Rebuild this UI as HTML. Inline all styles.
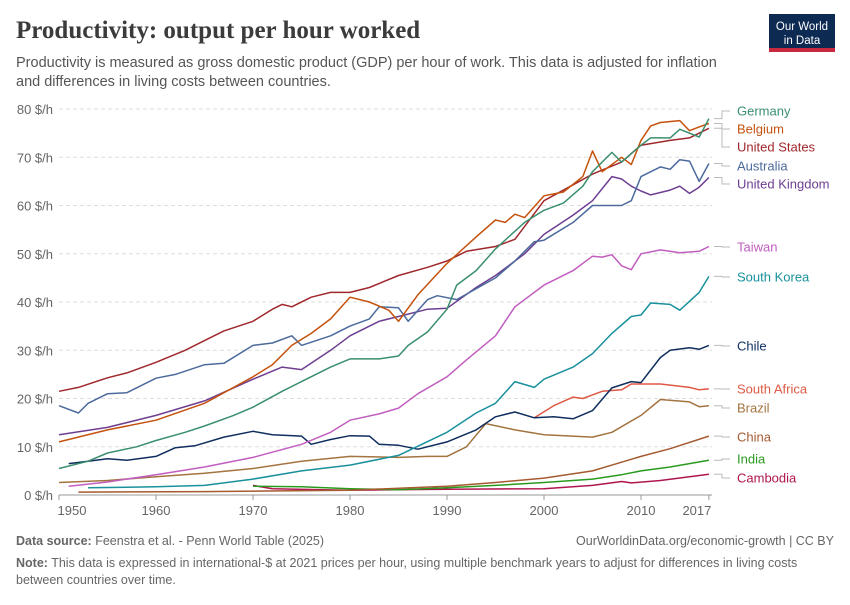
<!DOCTYPE html>
<html><head><meta charset="utf-8"><style>
body{margin:0;background:#fff;font-family:"Liberation Sans",sans-serif;}
</style></head><body>
<svg id="s" width="850" height="600" xmlns="http://www.w3.org/2000/svg" font-family="Liberation Sans, sans-serif">
<text x="16" y="38" font-family="Liberation Serif, serif" font-size="25" font-weight="bold" fill="#3b3b3b">Productivity: output per hour worked</text>
<text x="16" y="67" font-size="14.5" fill="#555">Productivity is measured as gross domestic product (GDP) per hour of work. This data is adjusted for inflation</text>
<text x="16" y="86" font-size="14.5" fill="#555">and differences in living costs between countries.</text>
<rect x="769" y="14" width="66" height="38" fill="#0d2a52"/>
<rect x="769" y="48" width="66" height="4" fill="#c8293e"/>
<text x="802" y="30" font-size="11.5" fill="#fff" text-anchor="middle">Our World</text>
<text x="802" y="44" font-size="11.5" fill="#fff" text-anchor="middle">in Data</text>
<g id="grid"></g>
<g id="lines"></g>
<g id="labels" font-size="13"></g>
<text x="16" y="545" font-size="12.5" fill="#666"><tspan font-weight="bold">Data source:</tspan> Feenstra et al. - Penn World Table (2025)</text>
<text x="834" y="545" font-size="12.5" fill="#666" text-anchor="end">OurWorldinData.org/economic-growth | CC BY</text>
<text x="16" y="567" font-size="12.5" fill="#666"><tspan font-weight="bold">Note:</tspan> This data is expressed in international-$ at 2021 prices per hour, using multiple benchmark years to adjust for differences in living costs</text>
<text x="16" y="584" font-size="12.5" fill="#666">between countries over time.</text>
</svg>
<script>
const NS="http://www.w3.org/2000/svg";
const X=y=>641+(y-2010)*9.7, Y=v=>495-v*4.825;
const g=document.getElementById('grid'),L=document.getElementById('lines'),lb=document.getElementById('labels');
function el(p,t,a,txt){const e=document.createElementNS(NS,t);for(const k in a)e.setAttribute(k,a[k]);if(txt)e.textContent=txt;p.appendChild(e);return e;}
for(let v=0;v<=80;v+=10){
 if(v>0)el(g,'line',{x1:59,x2:712,y1:Y(v),y2:Y(v),stroke:'#ddd','stroke-dasharray':'4,3'});
 el(g,'text',{x:53,y:Y(v)+5,'font-size':13,fill:'#666','text-anchor':'end'},v+' $/h');
}
el(g,'line',{x1:59,x2:712,y1:495,y2:495,stroke:'#999'});
[1950,1960,1970,1980,1990,2000,2010,2017].forEach(y=>{
 el(g,'line',{x1:X(y),x2:X(y),y1:495,y2:500,stroke:'#999'});
 let tx=y==1950?X(y)+13:(y==2017?X(y)-12:X(y));
 el(g,'text',{x:tx,y:515,'font-size':13,fill:'#666','text-anchor':'middle'},y);
});
const S=[
['Cambodia','#b0154f',478,[[1970,2],[1972,1.3],[1980,1],[1990,1.2],[2000,1.3],[2005,2],[2008,2.8],[2009,2.5],[2012,3],[2015,3.8],[2017,4.3]]],
['India','#2a9a1f',459,[[1970,1.8],[1975,1.7],[1980,1.3],[1985,1.1],[1990,1.5],[1995,2],[2000,2.6],[2005,3.3],[2008,4.2],[2010,5],[2013,5.8],[2017,7.2]]],
['China','#a55a30',437,[[1952,0.6],[1965,0.7],[1980,1],[1990,1.8],[1995,2.6],[2000,3.5],[2005,5],[2008,6.8],[2010,8],[2013,9.6],[2017,12.2]]],
['Brazil','#a37440',408,[[1950,2.6],[1955,3],[1960,3.8],[1965,4.5],[1970,5.5],[1975,7],[1980,8],[1985,7.8],[1988,8],[1990,8],[1992,10],[1994,14.8],[1997,13.5],[2000,12.5],[2005,12],[2007,13],[2010,16.5],[2012,19.8],[2015,19.3],[2016,18.3],[2017,18.5]]],
['South Africa','#dd5a45',389,[[1999,16],[2001,18.5],[2003,20.3],[2004,20],[2006,21.5],[2008,21.8],[2009,23],[2012,23],[2015,22.3],[2016,21.8],[2017,22]]],
['Chile','#0f2e5e',346,[[1951,6.5],[1953,7],[1955,7.5],[1957,7.2],[1960,8],[1962,9.8],[1964,10.2],[1967,12],[1970,13.2],[1972,12.5],[1975,12.2],[1976,10.5],[1978,11.5],[1980,12.3],[1982,12.2],[1983,10.5],[1985,10.3],[1987,9.5],[1990,11],[1993,13.5],[1995,16.2],[1997,17.2],[1999,16],[2001,16.2],[2003,15.8],[2005,17.5],[2007,22.2],[2009,23.5],[2010,23.3],[2012,28.5],[2013,30],[2015,30.5],[2016,30.2],[2017,31]]],
['South Korea','#18919c',277,[[1953,1.5],[1960,1.7],[1965,2],[1970,3.3],[1975,5],[1980,6.2],[1985,8.2],[1990,13],[1993,17],[1995,19],[1997,23.5],[1999,22.3],[2000,24],[2003,26.5],[2005,29.3],[2007,33.5],[2009,37],[2010,37.3],[2011,39.8],[2013,39.5],[2014,38.3],[2016,42],[2017,45.3]]],
['Taiwan','#c15ebf',247,[[1951,1.8],[1955,2.7],[1960,4.2],[1965,5.8],[1970,7.8],[1975,10.5],[1978,13],[1980,15.5],[1983,16.8],[1985,18],[1987,21],[1990,24.5],[1992,28],[1995,33],[1997,39],[2000,43.5],[2003,46.5],[2005,49.5],[2006,49.3],[2007,49.8],[2008,47.5],[2009,46.7],[2010,50],[2012,50.8],[2014,50.2],[2016,50.5],[2017,51.5]]],
['United Kingdom','#6d3e91',184,[[1950,12.5],[1955,14],[1960,16.5],[1965,19.5],[1970,24],[1973,26.5],[1975,26],[1978,30],[1980,33],[1983,36],[1985,37],[1988,38.5],[1990,38.7],[1993,43],[1995,45.5],[1998,50],[2000,54],[2003,58],[2005,61],[2007,66],[2008,65.5],[2009,64],[2010,63],[2011,62.2],[2013,63.2],[2014,64],[2015,62.5],[2016,63.8],[2017,65.8]]],
['Australia','#4c6a9c',166,[[1950,18.5],[1952,17],[1953,19],[1955,21],[1957,21.2],[1960,24.2],[1962,25],[1965,27],[1967,27.3],[1970,31],[1972,31.5],[1974,33],[1975,31],[1978,33],[1980,35],[1982,36.5],[1983,39],[1985,38.8],[1986,36],[1988,40.5],[1989,41.3],[1991,40.5],[1995,45],[1997,48.5],[1999,52.5],[2000,52.8],[2003,56.5],[2005,60],[2008,60],[2009,61],[2010,66],[2012,68],[2013,67.5],[2014,69.5],[2015,69.2],[2016,65],[2017,68.7]]],
['United States','#a0282c',147,[[1950,21.5],[1952,22.3],[1955,24.3],[1957,25.3],[1960,27.5],[1963,30],[1965,32],[1967,34],[1970,36],[1972,38.5],[1973,39.5],[1974,39],[1976,41],[1978,42],[1980,42],[1982,43],[1985,45.5],[1988,47.2],[1990,48.5],[1992,50.5],[1995,51.5],[1997,53],[2000,61],[2003,64.3],[2005,66.5],[2008,69],[2010,72.5],[2013,73.5],[2015,74],[2017,76]]],
['Belgium','#c4520d',129,[[1950,11],[1955,13.5],[1960,15.5],[1965,19],[1970,24.5],[1972,27],[1974,31],[1976,33.5],[1978,36.5],[1980,41],[1982,40],[1984,38.3],[1985,36],[1987,41.5],[1990,48],[1993,53.5],[1995,57],[1996,56.5],[1997,58.2],[1998,57.5],[2000,62],[2002,62.8],[2004,66],[2005,71.3],[2006,67],[2008,70],[2009,68.5],[2010,73.5],[2011,76.5],[2012,77.2],[2014,77.6],[2015,75.5],[2016,76.3],[2017,77]]],
['Germany','#3a8f6d',111,[[1950,5.5],[1953,7],[1955,8.7],[1958,10],[1960,11.3],[1963,13],[1965,14.3],[1968,16.5],[1970,18.2],[1973,21.5],[1975,23.5],[1978,26.5],[1980,28.2],[1983,28.2],[1985,28.8],[1986,31],[1988,33.8],[1990,38.5],[1991,43.5],[1993,46.5],[1995,51],[1998,56.5],[2000,59],[2002,60.5],[2004,64],[2005,67],[2007,71],[2008,69],[2010,72.5],[2011,74],[2013,74],[2014,75.8],[2016,74.2],[2017,78]]]
];
S.forEach(([n,c,ly,d])=>{
 el(L,'polyline',{points:d.map(p=>X(p[0]).toFixed(1)+','+Y(p[1]).toFixed(1)).join(' '),fill:'none',stroke:c,'stroke-width':1.5,'stroke-linejoin':'round'});
 const ey=Y(d[d.length-1][1]);
 el(lb,'polyline',{points:`714,${ey} 722,${ey} 722,${ly} 730,${ly}`,fill:'none',stroke:'#bbb','stroke-width':1});
 el(lb,'text',{x:737,y:ly+4.5,fill:c},n);
});
</script>
</body></html>
